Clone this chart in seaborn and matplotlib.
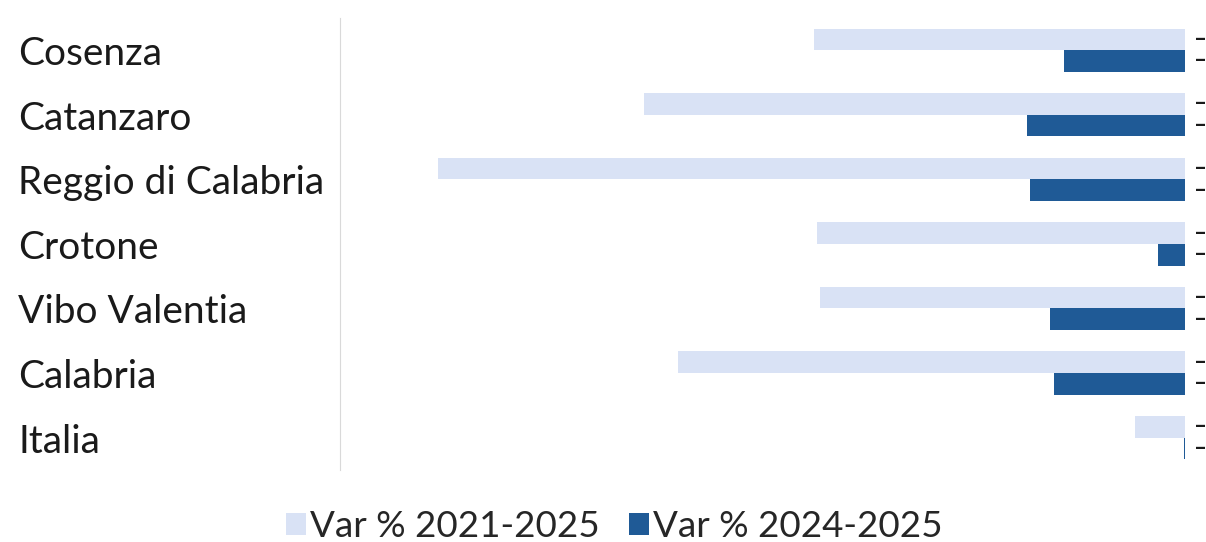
import pandas as pd
import matplotlib.pyplot as plt
import matplotlib.transforms as mtransforms
import seaborn as sns

# Dati (variazione %)
aree = ["Cosenza", "Catanzaro", "Reggio di Calabria", "Crotone",
        "Vibo Valentia", "Calabria", "Italia"]
var_2021_2025 = [-11.0, -16.0, -22.1, -10.9, -10.8, -15.0, -1.5]
var_2024_2025 = [-3.6, -4.7, -4.6, -0.8, -4.0, -3.9, -0.05]
serie = ["Var % 2021-2025", "Var % 2024-2025"]
colori = ["#D9E2F5", "#1F5A96"]

df = pd.DataFrame({
    "area": aree * 2,
    "valore": var_2021_2025 + var_2024_2025,
    "serie": [serie[0]] * len(aree) + [serie[1]] * len(aree),
})

sns.set_style("white")
plt.rcParams["font.family"] = ["Lato", "DejaVu Sans"]

fig = plt.figure(figsize=(12.06, 5.42), dpi=100)
ax = fig.add_axes([0.282, 0.133, 0.701, 0.834])

sns.barplot(data=df, y="area", x="valore", hue="serie", orient="h",
            palette=colori, width=0.67, gap=0, ax=ax, saturation=1,
            linewidth=0)

ax.set_xlim(-25, 0)
ax.set_xlabel("")
ax.set_ylabel("")
ax.set_xticks([])
ax.set_yticks(range(len(aree)))
ax.set_yticklabels([])
ax.tick_params(left=False)
for s in ["top", "right", "bottom"]:
    ax.spines[s].set_visible(False)
ax.spines["left"].set_color("#D9D9D9")

# etichette categorie allineate a sinistra
trans = mtransforms.blended_transform_factory(fig.transFigure, ax.transData)
for i, nome in enumerate(aree):
    ax.text(18 / 1206, i + 0.06, nome, transform=trans,
            ha="left", va="center", fontsize=28, color="#1a1a1a")

# etichette dati (troncate al bordo)
for cont in ax.containers:
    for bar in cont:
        y = bar.get_y() + bar.get_height() / 2
        ax.annotate("–", xy=(0, y), xytext=(6, 0), textcoords="offset points",
                    ha="left", va="center", fontsize=16, fontweight="bold",
                    color="#1a1a1a", annotation_clip=False)

ax.legend(loc="lower center", bbox_to_anchor=(614 / 1206, -0.063),
          bbox_transform=fig.transFigure,
          ncol=2, frameon=False, fontsize=26.5, handlelength=0.55, handleheight=0.55,
          handletextpad=0.1, columnspacing=0.8)

fig.savefig("out.png", dpi=100)
